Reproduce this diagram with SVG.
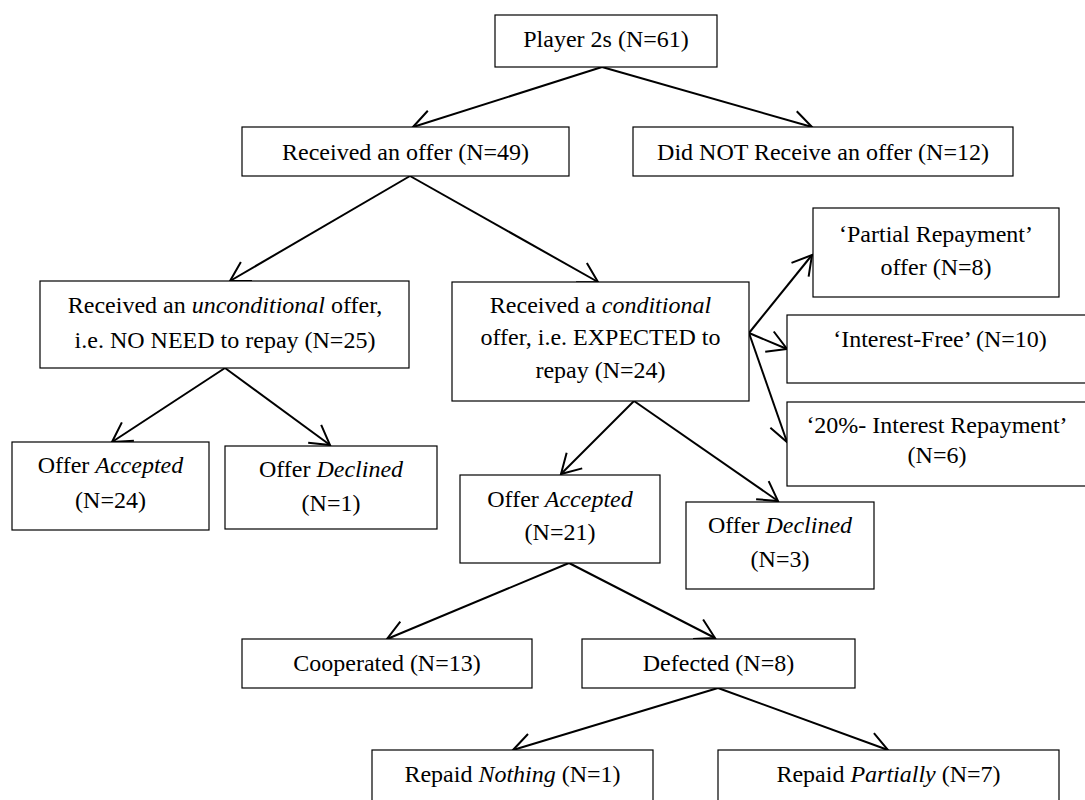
<svg xmlns="http://www.w3.org/2000/svg" width="1085" height="800" viewBox="0 0 1085 800">
<style>
.box{fill:#fff;stroke:#000;stroke-width:1.2}
.t{font-family:"Liberation Serif","Times New Roman",serif;font-size:24px;fill:#000;text-anchor:middle}
.i{font-style:italic}
.c{fill:none;stroke:#000;stroke-width:2;marker-end:url(#ah)}
</style>
<defs>
<marker id="ah" markerUnits="userSpaceOnUse" markerWidth="30" markerHeight="30" viewBox="-25 -15 30 30" refX="0" refY="0" orient="auto" overflow="visible">
<path d="M-19,-11 L0,0 L-19,11" fill="none" stroke="#000" stroke-width="2"/>
</marker>
</defs>
<rect width="1085" height="800" fill="#fff"/>
<g id="connectors">
<line class="c" x1="602" y1="67" x2="413" y2="127"/>
<line class="c" x1="602" y1="67" x2="812" y2="127"/>
<line class="c" x1="410" y1="176" x2="230" y2="281"/>
<line class="c" x1="410" y1="176" x2="598" y2="282"/>
<line class="c" x1="225" y1="368" x2="112" y2="442"/>
<line class="c" x1="225" y1="368" x2="330" y2="445"/>
<line class="c" x1="749" y1="333" x2="812" y2="255"/>
<line class="c" x1="749" y1="333" x2="787" y2="349"/>
<line class="c" x1="749" y1="333" x2="787" y2="442"/>
<line class="c" x1="634" y1="401" x2="561" y2="474"/>
<line class="c" x1="634" y1="401" x2="778" y2="501"/>
<line class="c" x1="569" y1="563" x2="387" y2="639"/>
<line class="c" x1="569" y1="563" x2="715" y2="638"/>
<line class="c" x1="718" y1="688" x2="513" y2="750"/>
<line class="c" x1="718" y1="688" x2="888" y2="750"/>
</g>
<g id="player2s"><rect class="box" x="495" y="15" width="222" height="52"/><text class="t" x="606" y="47">Player 2s (N=61)</text></g>
<g id="received"><rect class="box" x="242" y="127" width="327" height="49"/><text class="t" x="405.5" y="160">Received an offer (N=49)</text></g>
<g id="notreceived"><rect class="box" x="633" y="127" width="380" height="49"/><text class="t" x="823" y="160">Did NOT Receive an offer (N=12)</text></g>
<g id="unconditional"><rect class="box" x="40" y="281" width="369" height="87"/><text class="t" x="225" y="313">Received an <tspan class="i">unconditional</tspan> offer,</text><text class="t" x="225" y="348">i.e. NO NEED to repay (N=25)</text></g>
<g id="conditional"><rect class="box" x="452" y="282" width="297" height="119"/><text class="t" x="600.5" y="313">Received a <tspan class="i">conditional</tspan></text><text class="t" x="600.5" y="345">offer, i.e. EXPECTED to</text><text class="t" x="600.5" y="378">repay (N=24)</text></g>
<g id="partial"><rect class="box" x="813" y="208" width="246" height="89"/><text class="t" x="936" y="242">‘Partial Repayment’</text><text class="t" x="936" y="275">offer (N=8)</text></g>
<g id="interestfree"><rect class="box" x="787" y="315" width="306" height="68"/><text class="t" x="940" y="347">‘Interest-Free’ (N=10)</text></g>
<g id="interest20"><rect class="box" x="787" y="402" width="306" height="84"/><text class="t" x="937" y="433">‘20%- Interest Repayment’</text><text class="t" x="937" y="463">(N=6)</text></g>
<g id="accepted1"><rect class="box" x="12" y="442" width="197" height="88"/><text class="t" x="110.5" y="473">Offer <tspan class="i">Accepted</tspan></text><text class="t" x="110.5" y="508">(N=24)</text></g>
<g id="declined1"><rect class="box" x="225" y="446" width="212" height="83"/><text class="t" x="331" y="477">Offer <tspan class="i">Declined</tspan></text><text class="t" x="331" y="511">(N=1)</text></g>
<g id="accepted2"><rect class="box" x="460" y="475" width="200" height="88"/><text class="t" x="560" y="507">Offer <tspan class="i">Accepted</tspan></text><text class="t" x="560" y="540">(N=21)</text></g>
<g id="declined2"><rect class="box" x="686" y="502" width="188" height="87"/><text class="t" x="780" y="533">Offer <tspan class="i">Declined</tspan></text><text class="t" x="780" y="567">(N=3)</text></g>
<g id="cooperated"><rect class="box" x="242" y="639" width="290" height="49"/><text class="t" x="387" y="671">Cooperated (N=13)</text></g>
<g id="defected"><rect class="box" x="582" y="639" width="273" height="49"/><text class="t" x="718.5" y="671">Defected (N=8)</text></g>
<g id="repaidnothing"><rect class="box" x="372" y="750" width="281" height="60"/><text class="t" x="512.5" y="782">Repaid <tspan class="i">Nothing</tspan> (N=1)</text></g>
<g id="repaidpartially"><rect class="box" x="718" y="750" width="341" height="60"/><text class="t" x="888.5" y="782">Repaid <tspan class="i">Partially</tspan> (N=7)</text></g>
</svg>
